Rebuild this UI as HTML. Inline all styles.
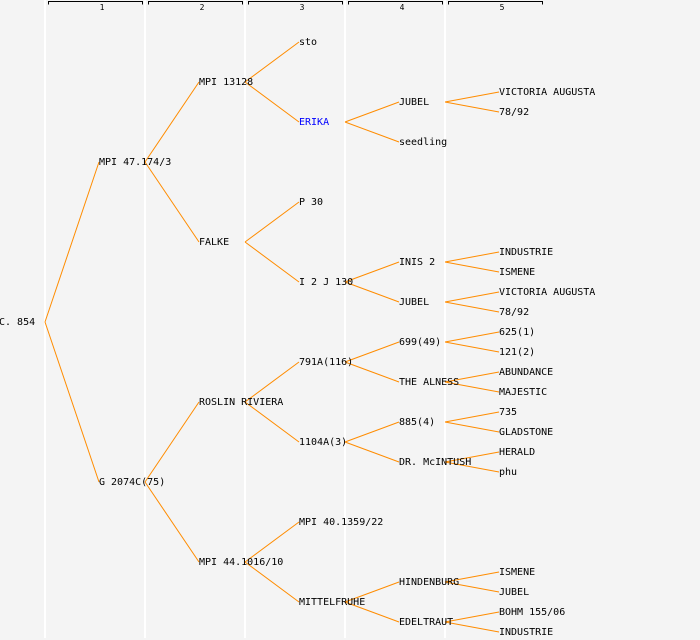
<!DOCTYPE html>
<html><head><meta charset="utf-8"><style>
html,body{margin:0;padding:0;background:#f4f4f4;}
svg{display:block;}
text{font-family:"DejaVu Sans Mono","Liberation Mono",monospace;font-size:10px;fill:#000;}
.h{font-size:8px;}
</style></head><body>
<svg width="700" height="640" viewBox="0 0 700 640" xmlns="http://www.w3.org/2000/svg">
<rect width="700" height="640" fill="#f4f4f4"/>
<g stroke="#ffffff" stroke-width="2">
<line x1="45" y1="0" x2="45" y2="638"/>
<line x1="145" y1="0" x2="145" y2="638"/>
<line x1="245" y1="0" x2="245" y2="638"/>
<line x1="345" y1="0" x2="345" y2="638"/>
<line x1="445" y1="0" x2="445" y2="638"/>
</g>
<g stroke="#000" stroke-width="1" fill="none">
<path d="M48.5 4.5V1.5H142.5V4.5"/>
<path d="M148.5 4.5V1.5H242.5V4.5"/>
<path d="M248.5 4.5V1.5H342.5V4.5"/>
<path d="M348.5 4.5V1.5H442.5V4.5"/>
<path d="M448.5 4.5V1.5H542.5V4.5"/>
</g>
<g text-anchor="middle">
<text class="h" x="102" y="10">1</text>
<text class="h" x="202" y="10">2</text>
<text class="h" x="302" y="10">3</text>
<text class="h" x="402" y="10">4</text>
<text class="h" x="502" y="10">5</text>
</g>
<g stroke="#ff8c00" stroke-width="1" fill="none">
<path d="M45 322L99 162M45 322L99 482"/>
<path d="M145 162L199 82M145 162L199 242M145 482L199 402M145 482L199 562"/>
<path d="M245 82L299 42M245 82L299 122M245 242L299 202M245 242L299 282M245 402L299 362M245 402L299 442M245 562L299 522M245 562L299 602"/>
<path d="M345 122L399 102M345 122L399 142M345 282L399 262M345 282L399 302M345 362L399 342M345 362L399 382M345 442L399 422M345 442L399 462M345 602L399 582M345 602L399 622"/>
<path d="M445 102L499 92M445 102L499 112M445 262L499 252M445 262L499 272M445 302L499 292M445 302L499 312M445 342L499 332M445 342L499 352M445 382L499 372M445 382L499 392M445 422L499 412M445 422L499 432M445 462L499 452M445 462L499 472M445 582L499 572M445 582L499 592M445 622L499 612M445 622L499 632"/>
</g>
<g transform="translate(0,-1)">
<text x="-1" y="326">C. 854</text>
<text x="99" y="166">MPI 47.174/3</text>
<text x="99" y="486">G 2074C(75)</text>
<text x="199" y="86">MPI 13128</text>
<text x="199" y="246">FALKE</text>
<text x="199" y="406">ROSLIN RIVIERA</text>
<text x="199" y="566">MPI 44.1016/10</text>
<text x="299" y="46">sto</text>
<text x="299" y="126" style="fill:#0000ff">ERIKA</text>
<text x="299" y="206">P 30</text>
<text x="299" y="286">I 2 J 130</text>
<text x="299" y="366">791A(116)</text>
<text x="299" y="446">1104A(3)</text>
<text x="299" y="526">MPI 40.1359/22</text>
<text x="299" y="606">MITTELFRUHE</text>
<text x="399" y="106">JUBEL</text>
<text x="399" y="146">seedling</text>
<text x="399" y="266">INIS 2</text>
<text x="399" y="306">JUBEL</text>
<text x="399" y="346">699(49)</text>
<text x="399" y="386">THE ALNESS</text>
<text x="399" y="426">885(4)</text>
<text x="399" y="466">DR. McINTUSH</text>
<text x="399" y="586">HINDENBURG</text>
<text x="399" y="626">EDELTRAUT</text>
<text x="499" y="96">VICTORIA AUGUSTA</text>
<text x="499" y="116">78/92</text>
<text x="499" y="256">INDUSTRIE</text>
<text x="499" y="276">ISMENE</text>
<text x="499" y="296">VICTORIA AUGUSTA</text>
<text x="499" y="316">78/92</text>
<text x="499" y="336">625(1)</text>
<text x="499" y="356">121(2)</text>
<text x="499" y="376">ABUNDANCE</text>
<text x="499" y="396">MAJESTIC</text>
<text x="499" y="416">735</text>
<text x="499" y="436">GLADSTONE</text>
<text x="499" y="456">HERALD</text>
<text x="499" y="476">phu</text>
<text x="499" y="576">ISMENE</text>
<text x="499" y="596">JUBEL</text>
<text x="499" y="616">BOHM 155/06</text>
<text x="499" y="636">INDUSTRIE</text>
</g>
</svg>
</body></html>
